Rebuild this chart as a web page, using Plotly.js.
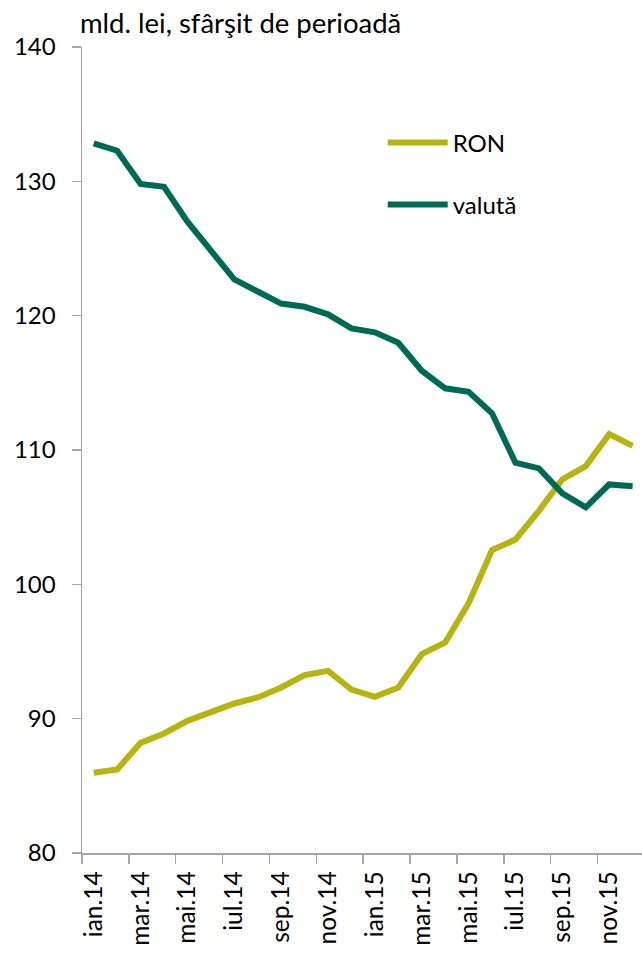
<!DOCTYPE html>
<html>
<head>
<meta charset="utf-8">
<script src="https://cdn.plot.ly/plotly-3.0.1.min.js"></script>
<style>html,body{margin:0;padding:0;background:#fff;}#chart{width:642px;height:954px;}</style>
</head>
<body>
<div id="chart"></div>
<script>
const months = ['ian.14','feb.14','mar.14','apr.14','mai.14','iun.14','iul.14','aug.14','sep.14','oct.14','nov.14','dec.14',
                'ian.15','feb.15','mar.15','apr.15','mai.15','iun.15','iul.15','aug.15','sep.15','oct.15','nov.15','dec.15'];
const ron    = [85.97,86.22,88.2,88.9,89.84,90.43,91.13,91.58,92.32,93.24,93.56,92.17,
                91.62,92.32,94.8,95.67,98.6,102.55,103.34,105.47,107.81,108.8,111.18,110.31];
const valuta = [132.83,132.28,129.8,129.6,127.0,124.8,122.7,121.8,120.9,120.66,120.1,119.05,
                118.76,117.98,115.9,114.59,114.33,112.73,109.05,108.63,106.77,105.73,107.44,107.31];
const seriesNames = ['RON','valută'];
const unitTitle = 'mld. lei, sfârşit de perioadă';

const FONT = 'Lato, "Noto Sans", sans-serif';
const traces = [
  {x: months, y: ron, name: seriesNames[0], type: 'scatter', mode: 'lines',
   line: {color: '#B5B50D', width: 6}, legend: 'legend'},
  {x: months, y: valuta, name: seriesNames[1], type: 'scatter', mode: 'lines',
   line: {color: '#006B55', width: 6}, legend: 'legend2'}
];
const legendBase = {bgcolor: 'rgba(0,0,0,0)', borderwidth: 0, itemwidth: 60,
  font: {family: FONT, size: 24, color: '#000'}, xanchor: 'left', yanchor: 'middle', x: 0.537};
const layout = {
  width: 642, height: 954,
  margin: {l: 82, r: 0, t: 47, b: 101},
  paper_bgcolor: '#fff', plot_bgcolor: '#fff',
  font: {family: FONT, size: 24, color: '#000'},
  title: {text: unitTitle, font: {family: FONT, size: 27.5, color: '#000'},
          xref: 'container', x: 80/642, xanchor: 'left', yref: 'container', y: 1 - 23/954, yanchor: 'middle'},
  showlegend: true,
  legend: Object.assign({}, legendBase, {y: 0.881}),
  legend2: Object.assign({}, legendBase, {y: 0.804}),
  xaxis: {type: 'category', categoryorder: 'array', categoryarray: months,
    range: [-0.5, 23.4], tickmode: 'linear', tick0: 0, dtick: 2, tickson: 'boundaries',
    ticks: 'outside', ticklen: 9, tickcolor: '#A6A6A6', tickwidth: 1.5,
    showline: true, linecolor: '#A6A6A6', linewidth: 1.5, showgrid: false, zeroline: false,
    ticklabelstandoff: 7,
    tickangle: -90, tickfont: {family: FONT, size: 24.5, color: '#000'}},
  yaxis: {range: [80, 140], tickmode: 'linear', tick0: 80, dtick: 10,
    ticks: 'outside', ticklen: 9, tickcolor: '#A6A6A6', tickwidth: 1.5,
    showline: true, linecolor: '#A6A6A6', linewidth: 1.5, showgrid: false, zeroline: false,
    ticklabelstandoff: 11, tickfont: {family: FONT, size: 24, color: '#000'}}
};
Plotly.newPlot('chart', traces, layout, {displayModeBar: false, staticPlot: true});
</script>
</body>
</html>
